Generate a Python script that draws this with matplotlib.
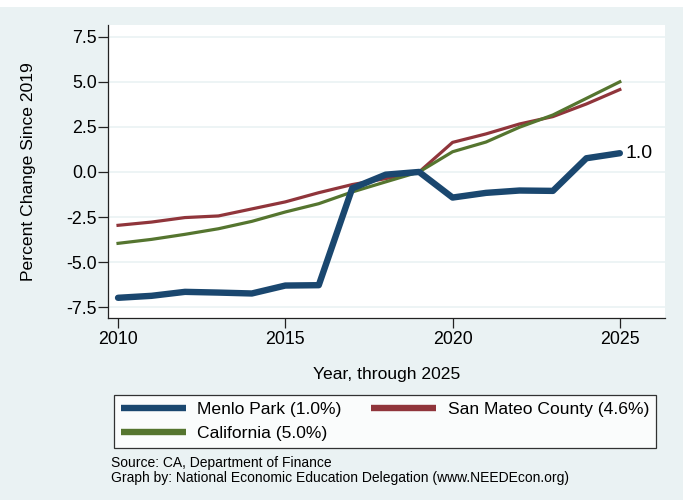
import numpy as np
import matplotlib
matplotlib.use("Agg")
import matplotlib.pyplot as plt
from matplotlib.patches import Rectangle

plt.rcParams['font.family'] = ['Liberation Sans', 'DejaVu Sans']

years = np.arange(2010, 2026)
menlo = [-6.98, -6.87, -6.65, -6.69, -6.74, -6.30, -6.28, -0.91, -0.15, 0.0,
         -1.42, -1.16, -1.03, -1.05, 0.76, 1.04]
san_mateo = [-2.96, -2.78, -2.53, -2.44, -2.05, -1.66, -1.15, -0.70, -0.37, 0.0,
             1.64, 2.11, 2.66, 3.07, 3.77, 4.57]
california = [-3.96, -3.74, -3.46, -3.15, -2.74, -2.22, -1.76, -1.11, -0.55, 0.0,
              1.12, 1.66, 2.48, 3.16, 4.08, 5.0]
labels = ['Menlo Park (1.0%)', 'San Mateo County (4.6%)', 'California (5.0%)']
yticks = [-7.5, -5.0, -2.5, 0.0, 2.5, 5.0, 7.5]
xticks = [2010, 2015, 2020, 2025]

bg = '#eaf2f3'
c_menlo = '#1a476f'
c_sm = '#90353b'
c_ca = '#55752f'

W, H = 686, 500
fig = plt.figure(figsize=(W / 100, H / 100), dpi=100, facecolor='white')
fig.patches.append(Rectangle((0, 0), 683 / W, 1 - 7 / H, transform=fig.transFigure,
                             facecolor=bg, edgecolor='none', zorder=-10))

ax = fig.add_axes([108 / W, 1 - 318 / H, (665 - 108) / W, (318 - 25) / H])
ax.set_facecolor('white')

l1, = ax.plot(years, menlo, color=c_menlo, lw=4.6, solid_capstyle='round', zorder=3)
l2, = ax.plot(years, san_mateo, color=c_sm, lw=2.3, zorder=2)
l3, = ax.plot(years, california, color=c_ca, lw=2.3, zorder=2)
ax.annotate('%.1f' % menlo[-1], (years[-1], menlo[-1]), xytext=(4, 0),
            textcoords='offset points', va='center', ha='left', fontsize=14)

ax.set_xlim(2009.7, 2026.35)
ax.set_ylim(-8.1, 8.15)
ax.set_yticks(yticks)
ax.set_yticklabels(['%.1f' % v for v in yticks])
ax.set_xticks(xticks)
ax.grid(axis='y', color=bg, lw=1.2)
ax.set_axisbelow(True)
for s in ['top', 'right']:
    ax.spines[s].set_visible(False)
for s in ['left', 'bottom']:
    ax.spines[s].set_color('#222222')
    ax.spines[s].set_linewidth(0.9)
ax.tick_params(axis='both', labelsize=12.8, length=7, width=0.9, color='#222222')
ax.tick_params(axis='y', pad=1)
ax.tick_params(axis='x', pad=2)
ax.set_ylabel('Percent Change Since 2019', fontsize=12.6, labelpad=22)
ax.set_xlabel('Year, through 2025', fontsize=12.6, labelpad=14)

leg = fig.legend([l1, l3, l2], [labels[0], labels[2], labels[1]], ncol=2,
                 loc='lower left', mode='expand',
                 bbox_to_anchor=(114 / W, 1 - 448 / H, (656 - 114) / W, 55 / H),
                 fontsize=12.6, handlelength=3.7, frameon=True, fancybox=False,
                 edgecolor='black', borderaxespad=0, labelspacing=0.5,
                 borderpad=0.4, handletextpad=0.65)
leg.get_frame().set_linewidth(0.9)
for h in leg.legend_handles:
    h.set_linewidth(4.6)
    h.set_solid_capstyle('butt')

fig.text(111 / W, 1 - 463 / H, 'Source: CA, Department of Finance', fontsize=10,
         va='center', ha='left')
fig.text(111 / W, 1 - 478 / H,
         'Graph by: National Economic Education Delegation (www.NEEDEcon.org)',
         fontsize=10, va='center', ha='left')

fig.savefig('out.png', dpi=100, facecolor='white')
